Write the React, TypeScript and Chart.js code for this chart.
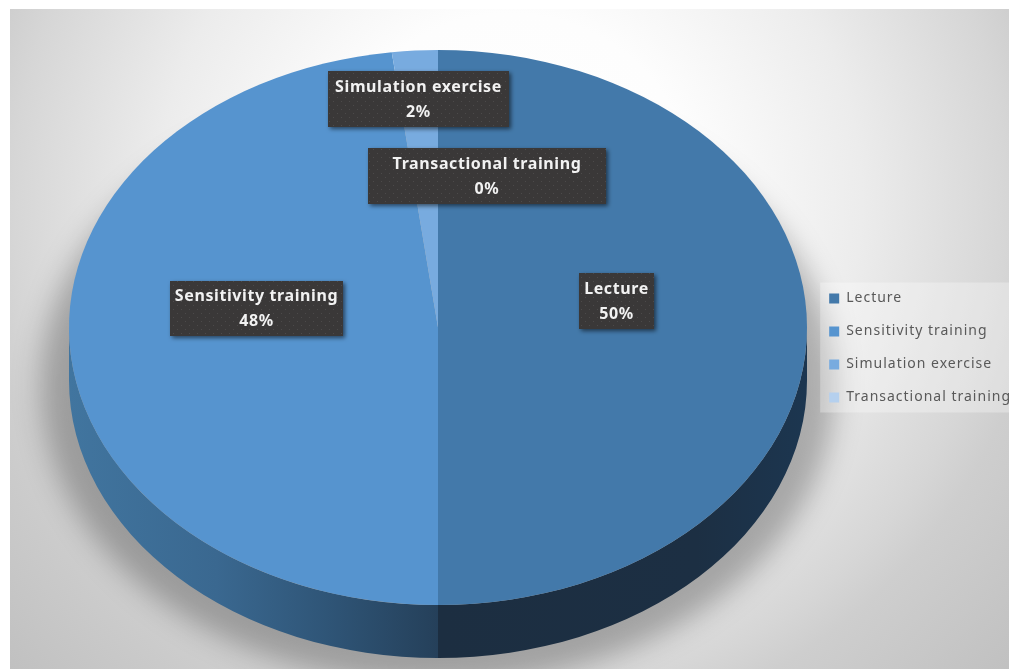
import React, { useEffect, useRef } from "react";
import { Chart, registerables } from "chart.js";

Chart.register(...registerables);

// Training methods and their share in percent
const categories = ["Lecture", "Sensitivity training", "Simulation exercise", "Transactional training"];
const shares = [50, 48, 2, 0];

const faceColors = ["#4379aa", "#5694cf", "#78abdf", "#b5d0ee"];
const legendFontFamily = "'Noto Sans', sans-serif";
const labelFontFamily = "'Noto Sans', sans-serif";

// Tilted disc geometry
const DISC = { cx: 438, cy: 327.5, rx: 369, ry: 277.5, depth: 53 };

// Callout boxes, listed in slice order
const calloutBoxes = [
  { cx: 616.5, cy: 301, w: 75, h: 56 },
  { cx: 256.5, cy: 308.5, w: 173, h: 55 },
  { cx: 418.5, cy: 99, w: 181, h: 56 },
  { cx: 487, cy: 176, w: 238, h: 56 },
];

function dotPattern(ctx: CanvasRenderingContext2D) {
  const tile = document.createElement("canvas");
  tile.width = 8;
  tile.height = 8;
  const t = tile.getContext("2d")!;
  t.fillStyle = "#3a3838";
  t.fillRect(0, 0, 8, 8);
  t.fillStyle = "#4c4a4a";
  t.fillRect(1, 1, 1, 1);
  t.fillRect(5, 5, 1, 1);
  return ctx.createPattern(tile, "repeat")!;
}

function wallPath(ctx: CanvasRenderingContext2D, a0: number, a1: number) {
  const { cx, cy, rx, ry, depth } = DISC;
  ctx.beginPath();
  ctx.ellipse(cx, cy, rx, ry, 0, a0, a1, false);
  ctx.ellipse(cx, cy + depth, rx, ry, 0, a1, a0, true);
  ctx.closePath();
}

const discPlugin = {
  id: "disc",
  beforeLayout(chart: any) {
    // The legend is measured and drawn with slightly open tracking
    chart.ctx.letterSpacing = "1px";
  },
  beforeDraw(chart: any) {
    const { ctx, width, height } = chart;
    const { cx, cy, rx, ry } = DISC;
    ctx.letterSpacing = "1px";
    ctx.save();
    const g = ctx.createRadialGradient(510, 200, 0, 510, 200, 690);
    g.addColorStop(0, "#ffffff");
    g.addColorStop(0.27, "#fdfdfd");
    g.addColorStop(0.51, "#ececec");
    g.addColorStop(0.72, "#d6d6d6");
    g.addColorStop(0.78, "#cecece");
    g.addColorStop(1, "#c0c0c0");
    ctx.fillStyle = g;
    ctx.fillRect(10, 9, width - 10, height - 9);

    // Soft cast shadow underneath the disc
    ctx.save();
    ctx.filter = "blur(14px)";
    ctx.fillStyle = "rgba(0,0,0,0.27)";
    ctx.beginPath();
    ctx.ellipse(cx, cy + 58, rx + 28, ry + 22, 0, 0, Math.PI * 2);
    ctx.fill();
    ctx.restore();

    const boxes = chart.legend.legendHitBoxes;
    const first = boxes[0];
    const last = boxes[boxes.length - 1];
    ctx.fillStyle = "rgba(255,255,255,0.3)";
    ctx.fillRect(first.left - 9, first.top - 9, width, last.top + last.height - first.top + 17);
    ctx.restore();
  },
  beforeDatasetsDraw(chart: any) {
    const { ctx } = chart;
    const { cx, cy, rx, ry } = DISC;
    const meta = chart.getDatasetMeta(0);

    // Side wall, only the part facing the viewer
    ctx.save();
    meta.data.forEach((arc: any, i: number) => {
      const a0 = Math.max(arc.startAngle, 0);
      const a1 = Math.min(arc.endAngle, Math.PI);
      if (a1 <= a0) return;
      const g = ctx.createLinearGradient(cx - rx, 0, cx + rx, 0);
      if (i === 0) {
        g.addColorStop(0.5, "#1c2e41");
        g.addColorStop(0.85, "#1c2f43");
        g.addColorStop(1, "#1c3650");
      } else {
        g.addColorStop(0, "#41759f");
        g.addColorStop(0.2, "#3a6890");
        g.addColorStop(0.35, "#2f5577");
        g.addColorStop(0.5, "#25405a");
      }
      ctx.fillStyle = g;
      wallPath(ctx, a0, a1);
      ctx.fill();
    });
    ctx.restore();

    // Squash the library's round arcs into the tilted disc
    const arc = meta.data[0];
    ctx.save();
    ctx.translate(cx, cy);
    ctx.scale(rx / arc.outerRadius, ry / arc.outerRadius);
    ctx.translate(-arc.x, -arc.y);
  },
  afterDatasetsDraw(chart: any) {
    const { ctx } = chart;
    ctx.restore();

    const pattern = dotPattern(ctx);
    categories.forEach((name, i) => {
      const b = calloutBoxes[i];
      ctx.save();
      ctx.shadowColor = "rgba(0,0,0,0.55)";
      ctx.shadowBlur = 4;
      ctx.shadowOffsetX = 2;
      ctx.shadowOffsetY = 2;
      ctx.fillStyle = pattern;
      ctx.fillRect(b.cx - b.w / 2, b.cy - b.h / 2, b.w, b.h);
      ctx.restore();

      ctx.save();
      ctx.letterSpacing = "0.6px";
      ctx.fillStyle = "#f2f2f2";
      ctx.font = `bold 16px ${labelFontFamily}`;
      ctx.textAlign = "center";
      ctx.textBaseline = "middle";
      ctx.fillText(name, b.cx, b.cy - 12);
      ctx.fillText(`${shares[i]}%`, b.cx, b.cy + 13);
      ctx.restore();
    });
  },
};

export default function App() {
  const ref = useRef<HTMLCanvasElement>(null);

  useEffect(() => {
    const canvas = ref.current!;
    const chart = new Chart(canvas, {
      type: "pie",
      data: {
        labels: categories,
        datasets: [
          {
            data: shares,
            backgroundColor: faceColors,
            borderWidth: 0,
          },
        ],
      },
      options: {
        animation: false,
        responsive: false,
        radius: 369,
        layout: { padding: { top: 27 } },
        plugins: {
          tooltip: { enabled: false },
          title: { display: false },
          legend: {
            display: true,
            position: "right",
            labels: {
              boxWidth: 10,
              boxHeight: 10,
              padding: 19,
              color: "#595959",
              font: { family: legendFontFamily, size: 14 },
            },
          },
        },
      },
      plugins: [discPlugin],
    } as any);
    return () => chart.destroy();
  }, []);

  return (
    <div
      style={{
        position: "fixed",
        left: 0,
        top: 0,
        width: 1009,
        height: 669,
        overflow: "hidden",
        background: "#fff",
      }}
    >
      <canvas ref={ref} width={1021} height={669} style={{ display: "block" }} />
    </div>
  );
}
